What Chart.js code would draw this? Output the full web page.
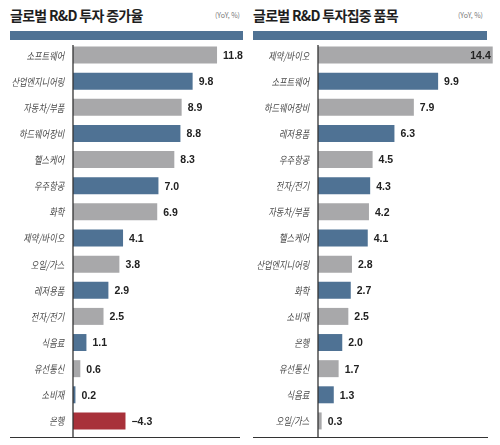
<!DOCTYPE html>
<html>
<head>
<meta charset="utf-8">
<script src="https://cdn.jsdelivr.net/npm/chart.js"></script>
<style>
body { margin: 0; background: #fff; font-family: "Noto Sans CJK KR", sans-serif; }
.title { position: absolute; top: 5px; font-size: 14px; font-weight: bold; letter-spacing: -0.7px; color: #1e1e1e; white-space: nowrap; }
.unit { position: absolute; top: 10px; font-size: 7px; color: #777; white-space: nowrap; }
.band { position: absolute; top: 31px; height: 9px; background: #4f7294; }
canvas { position: absolute; top: 0; }
</style>
</head>
<body>
<div class="title" style="left:10px">글로벌 R&amp;D 투자 증가율</div>
<div class="unit" style="left:215px">(YoY, %)</div>
<div class="band" style="left:10px;width:233px"></div>
<div class="title" style="left:253px">글로벌 R&amp;D 투자집중 품목</div>
<div class="unit" style="left:458px">(YoY, %)</div>
<div class="band" style="left:253px;width:234px"></div>

<canvas id="growth" width="250" height="445" style="left:0"></canvas>
<canvas id="focus" width="250" height="445" style="left:250px"></canvas>

<script>
// 글로벌 R&D 투자 증가율
var growthLabels = ['소프트웨어', '산업엔지니어링', '자동차/부품', '하드웨어장비', '헬스케어', '우주항공', '화학',
    '제약/바이오', '오일/가스', '레저용품', '전자/전기', '식음료', '유선통신', '소비재', '은행'];
var growthValues = [11.8, 9.8, 8.9, 8.8, 8.3, 7.0, 6.9, 4.1, 3.8, 2.9, 2.5, 1.1, 0.6, 0.2, -4.3];

// 글로벌 R&D 투자집중 품목
var focusLabels = ['제약/바이오', '소프트웨어', '하드웨어장비', '레저용품', '우주항공', '전자/전기', '자동차/부품',
    '헬스케어', '산업엔지니어링', '화학', '소비재', '은행', '유선통신', '식음료', '오일/가스'];
var focusValues = [14.4, 9.9, 7.9, 6.3, 4.5, 4.3, 4.2, 4.1, 2.8, 2.7, 2.5, 2.0, 1.7, 1.3, 0.3];

var GRAY = '#a8a8aa', BLUE = '#4f7294', RED = '#a8313a';

function barColors(values) {
    return values.map(function (v, i) {
        if (v < 0) return RED;
        return i % 2 === 0 ? GRAY : BLUE;
    });
}

function fmt(v) {
    return (v < 0 ? '\u2212' : '') + Math.abs(v).toFixed(1);
}

// axis lines, slanted category labels, value labels
var decor = {
    id: 'decor',
    afterDatasetsDraw: function (chart, args, opts) {
        var ctx = chart.ctx, area = chart.chartArea, yScale = chart.scales.y;
        var values = opts.values;
        ctx.save();
        ctx.strokeStyle = '#333';
        ctx.lineWidth = 1.3;
        ctx.beginPath();
        ctx.moveTo(area.left, area.top + 3);
        ctx.lineTo(area.left, 437);
        ctx.stroke();
        ctx.lineWidth = 1;
        ctx.beginPath();
        ctx.moveTo(opts.lineFrom, 437.5);
        ctx.lineTo(opts.lineTo, 437.5);
        ctx.stroke();

        // category names: condensed + oblique like the print face
        ctx.font = '10.5px "Noto Sans CJK KR"';
        ctx.fillStyle = '#4a4a4a';
        ctx.textAlign = 'right';
        ctx.textBaseline = 'middle';
        chart.data.labels.forEach(function (lab, i) {
            ctx.save();
            ctx.translate(area.left - 8, yScale.getPixelForTick(i) + 0.5);
            ctx.transform(0.78, 0, -0.2, 1, 0, 0);
            ctx.fillText(lab, 0, 0);
            ctx.restore();
        });

        ctx.font = 'bold 10.5px "Liberation Sans", Arial, sans-serif';
        ctx.fillStyle = '#222';
        chart.getDatasetMeta(0).data.forEach(function (bar, i) {
            var txt = fmt(values[i]);
            var w = ctx.measureText(txt).width;
            if (bar.x + 6 + w > area.right) {
                ctx.textAlign = 'right';
                ctx.fillText(txt, bar.x - 2, bar.y + 1);
            } else {
                ctx.textAlign = 'left';
                ctx.fillText(txt, bar.x + 6, bar.y + 1);
            }
        });
        ctx.restore();
    }
};

function makeChart(id, labels, values, axisWidth, xMax, lineFrom, lineTo) {
    return new Chart(document.getElementById(id), {
        type: 'bar',
        data: {
            labels: labels,
            datasets: [{
                data: values.map(Math.abs),
                backgroundColor: barColors(values),
                categoryPercentage: 1,
                barPercentage: 0.65
            }]
        },
        options: {
            indexAxis: 'y',
            responsive: false,
            animation: false,
            layout: { padding: { top: 42, bottom: 11, left: 0, right: 0 } },
            plugins: {
                legend: { display: false },
                tooltip: { enabled: false },
                decor: { values: values, lineFrom: lineFrom, lineTo: lineTo }
            },
            scales: {
                x: { display: false, min: 0, max: xMax },
                y: {
                    grid: { display: false, drawTicks: false },
                    border: { display: false },
                    ticks: { display: false },
                    afterFit: function (scale) { scale.width = axisWidth; }
                }
            }
        },
        plugins: [decor]
    });
}

makeChart('growth', growthLabels, growthValues, 73, 14.5, 10, 240);
makeChart('focus', focusLabels, focusValues, 68, 15, 3, 238);
</script>
</body>
</html>
